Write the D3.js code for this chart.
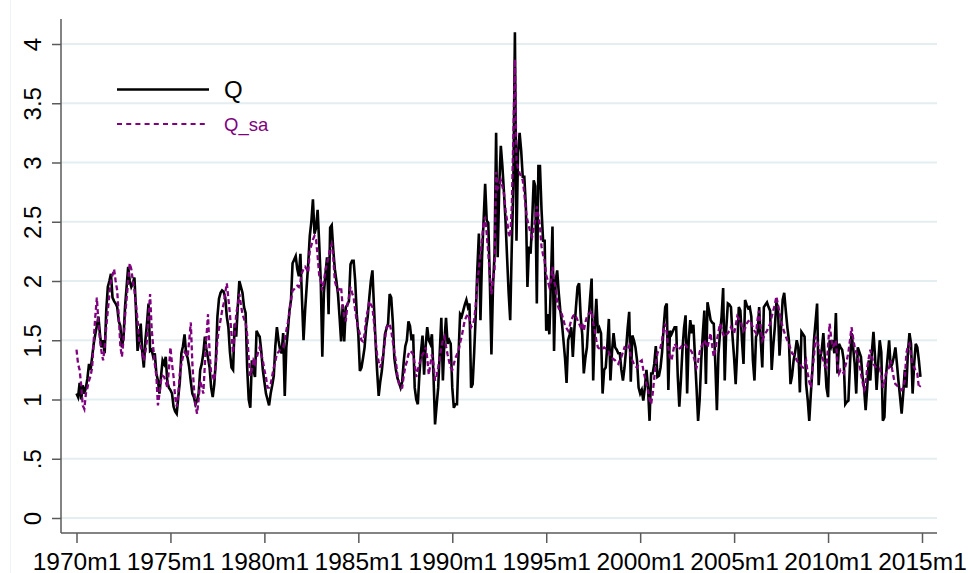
<!DOCTYPE html>
<html>
<head>
<meta charset="utf-8">
<script src="https://cdn.jsdelivr.net/npm/d3@7"></script>
<style>
  body { margin: 0; background: #fff; }
  svg { display: block; }
  text { font-family: "Liberation Sans", Arial, Helvetica, sans-serif; }
</style>
</head>
<body>
<div id="chart"></div>
<script>
// tick labels
var xTickLabels = ["1970m1","1975m1","1980m1","1985m1","1990m1","1995m1","2000m1","2005m1","2010m1","2015m1"];
var yTickValues = [0, 0.5, 1, 1.5, 2, 2.5, 3, 3.5, 4];
var yTickLabels = ["0", ".5", "1", "1.5", "2", "2.5", "3", "3.5", "4"];
var seriesNames = ["Q", "Q_sa"];

// monthly values, 1970m1 .. 2014m12 (one row per year)
var q = [
  1.05,1.02,1.14,1.0,1.12,1.05,1.1,1.18,1.3,1.25,1.36,1.47,
  1.55,1.62,1.7,1.55,1.44,1.5,1.39,1.75,1.95,2.0,2.06,1.86,
  1.83,1.81,1.78,1.66,1.62,1.44,1.52,1.78,1.95,2.12,2.0,1.95,
  1.98,2.03,1.75,1.41,1.5,1.64,1.4,1.27,1.5,1.64,1.81,1.41,
  1.42,1.36,1.39,1.22,1.16,1.05,1.2,1.33,1.3,1.36,1.15,1.1,
  1.08,1.05,0.94,0.9,0.88,1.02,1.15,1.39,1.45,1.55,1.39,1.35,
  1.27,1.15,1.05,1.02,0.96,0.99,1.05,1.25,1.3,1.39,1.53,1.42,
  1.35,1.27,1.1,1.02,1.13,1.33,1.7,1.85,1.9,1.92,1.91,1.86,
  1.7,1.61,1.4,1.27,1.25,1.64,1.53,1.78,2.0,1.95,1.9,1.78,
  1.73,1.27,1.0,0.93,1.33,1.25,1.19,1.58,1.55,1.53,1.41,1.25,
  1.15,1.05,1.0,0.95,1.05,1.12,1.2,1.45,1.61,1.5,1.42,1.39,
  1.56,1.03,1.44,1.58,1.75,1.84,2.15,2.18,2.21,2.1,2.04,2.23,
  1.85,1.5,1.75,1.95,2.15,2.38,2.5,2.69,2.4,2.45,2.6,2.32,
  2.0,1.36,1.9,2.06,2.2,1.72,2.45,2.47,2.26,2.1,2.0,1.89,
  1.7,1.49,1.8,1.49,1.78,1.8,1.83,2.14,2.17,2.17,2.0,1.72,
  1.55,1.24,1.27,1.35,1.44,1.61,1.7,1.86,2.0,2.09,1.78,1.49,
  1.24,1.03,1.15,1.24,1.38,1.55,1.6,1.64,1.89,1.86,1.66,1.35,
  1.25,1.18,1.14,1.1,1.15,1.32,1.45,1.5,1.66,1.62,1.5,1.55,
  1.1,1.0,0.96,1.21,1.4,1.54,1.21,1.45,1.61,1.5,1.47,1.55,
  1.2,0.79,0.95,1.1,1.4,1.69,1.16,1.5,1.69,1.47,1.5,1.47,
  1.1,0.93,0.96,0.96,1.38,1.72,1.7,1.75,1.8,1.84,1.78,1.81,
  1.1,1.13,1.4,1.72,2.1,2.4,1.67,2.2,2.51,2.82,2.51,2.49,
  2.0,1.38,1.95,2.23,3.25,2.2,2.8,3.14,2.97,2.75,2.51,2.2,
  1.9,1.67,2.29,2.8,4.1,2.34,3.08,3.25,3.1,2.88,2.88,2.63,
  1.95,2.29,2.23,2.5,2.85,2.8,1.81,2.97,2.97,2.6,2.34,2.34,
  1.58,1.72,1.55,2.0,2.46,1.41,2.0,2.09,1.9,1.75,1.65,1.5,
  1.35,1.14,1.5,1.55,1.61,1.36,1.6,1.78,1.95,1.98,1.7,1.55,
  1.22,1.35,1.44,1.67,1.85,2.02,1.16,1.6,1.85,1.56,1.6,1.56,
  1.05,1.25,1.27,1.45,1.68,1.16,1.4,1.56,1.44,1.42,1.39,1.39,
  1.25,1.16,1.27,1.42,1.6,1.74,1.15,1.54,1.5,1.44,1.33,1.1,
  1.05,1.08,0.99,1.1,1.25,1.1,0.82,1.22,1.22,1.3,1.45,1.19,
  1.2,1.27,1.4,1.61,1.78,1.81,1.08,1.58,1.55,1.58,1.61,1.61,
  1.2,0.94,1.16,1.42,1.6,1.71,1.05,1.5,1.67,1.56,1.63,1.36,
  1.1,0.82,1.0,1.33,1.55,1.75,1.13,1.82,1.75,1.67,1.65,1.64,
  1.3,0.91,1.39,1.56,1.7,1.94,1.16,1.6,1.81,1.8,1.78,1.53,
  1.35,1.13,1.42,1.78,1.75,1.5,1.3,1.84,1.8,1.77,1.78,1.7,
  1.33,1.16,1.53,1.56,1.78,1.5,1.27,1.78,1.8,1.82,1.78,1.75,
  1.25,1.45,1.61,1.82,1.78,1.37,1.6,1.84,1.9,1.75,1.61,1.5,
  1.13,1.2,1.33,1.4,1.5,1.44,1.06,1.57,1.55,1.53,1.13,1.0,
  0.82,1.05,1.25,1.5,1.65,1.81,1.12,1.35,1.42,1.56,1.33,1.1,
  1.02,1.5,1.45,1.5,1.39,1.73,1.22,1.47,1.44,1.42,1.33,0.96,
  0.98,0.99,1.3,1.56,1.44,1.3,1.05,1.44,1.4,1.36,1.2,1.1,
  0.91,1.1,1.33,1.16,1.4,1.57,1.36,1.08,1.3,1.5,1.4,0.82,
  0.85,1.2,1.35,1.5,1.27,1.3,1.36,1.44,1.3,1.15,1.02,0.88,
  1.05,1.25,1.1,1.4,1.56,1.47,1.05,1.3,1.47,1.44,1.33,1.19
];

var qSa = [
  1.42,1.3,1.25,1.12,0.95,0.92,1.05,1.1,1.16,1.2,1.27,1.5,
  1.7,1.86,1.65,1.5,1.4,1.33,1.45,1.61,1.75,1.89,2.0,2.05,
  2.1,2.0,1.92,1.7,1.45,1.36,1.5,1.7,1.85,2.0,2.15,2.1,
  2.0,1.92,1.8,1.67,1.5,1.45,1.39,1.33,1.4,1.5,1.7,1.89,
  1.6,1.44,1.3,1.2,0.95,1.05,1.16,1.2,1.19,1.15,1.1,1.25,
  1.44,1.3,1.19,1.02,0.94,1.05,1.22,1.3,1.36,1.4,1.38,1.36,
  1.5,1.65,1.3,1.1,0.95,0.88,1.0,1.16,1.1,1.05,1.3,1.53,
  1.72,1.4,1.22,1.2,1.16,1.3,1.5,1.6,1.67,1.75,1.81,1.9,
  1.98,1.85,1.72,1.55,1.39,1.55,1.72,1.8,1.89,1.8,1.72,1.68,
  1.65,1.55,1.35,1.2,1.25,1.33,1.3,1.35,1.4,1.44,1.38,1.33,
  1.25,1.19,1.1,1.1,1.13,1.2,1.27,1.32,1.39,1.4,1.42,1.43,
  1.44,1.5,1.58,1.65,1.73,1.84,1.92,1.93,1.95,1.96,1.95,2.0,
  2.07,2.1,2.12,2.1,2.07,2.26,2.3,2.35,2.38,2.35,2.21,2.05,
  2.0,1.92,2.0,2.09,2.15,2.2,2.28,2.31,2.2,2.0,1.95,1.92,
  1.93,1.95,1.78,1.7,1.66,1.8,1.86,1.95,1.9,1.86,1.75,1.66,
  1.6,1.55,1.5,1.49,1.55,1.69,1.75,1.83,1.8,1.78,1.65,1.5,
  1.38,1.32,1.27,1.33,1.38,1.5,1.61,1.62,1.64,1.58,1.49,1.4,
  1.32,1.2,1.13,1.1,1.1,1.2,1.28,1.32,1.38,1.41,1.4,1.38,
  1.3,1.19,1.25,1.3,1.35,1.38,1.4,1.44,1.35,1.21,1.3,1.38,
  1.3,1.16,1.2,1.27,1.35,1.44,1.5,1.53,1.45,1.38,1.32,1.27,
  1.25,1.3,1.35,1.38,1.41,1.48,1.53,1.6,1.67,1.7,1.72,1.68,
  1.61,1.63,1.67,1.8,2.0,2.1,2.23,2.35,2.5,2.54,2.4,2.23,
  2.05,1.89,2.0,2.09,2.92,2.78,2.8,2.85,2.8,2.74,2.6,2.51,
  2.4,2.37,2.63,3.22,3.87,3.02,2.95,2.91,2.88,2.85,2.74,2.6,
  2.51,2.46,2.4,2.37,2.45,2.51,2.63,2.55,2.46,2.29,2.22,2.17,
  2.05,2.0,1.95,2.0,2.12,2.0,1.95,1.81,1.77,1.74,1.72,1.67,
  1.62,1.6,1.58,1.62,1.67,1.7,1.72,1.7,1.67,1.64,1.61,1.64,
  1.58,1.65,1.7,1.72,1.73,1.75,1.65,1.58,1.5,1.44,1.43,1.42,
  1.43,1.44,1.43,1.42,1.4,1.36,1.35,1.34,1.33,1.31,1.3,1.33,
  1.36,1.4,1.44,1.43,1.42,1.45,1.36,1.33,1.3,1.28,1.27,1.3,
  1.32,1.33,1.25,1.19,1.13,1.08,1.0,0.96,1.05,1.18,1.3,1.39,
  1.42,1.44,1.5,1.6,1.64,1.56,1.44,1.36,1.33,1.4,1.47,1.45,
  1.42,1.43,1.44,1.46,1.47,1.46,1.44,1.43,1.42,1.4,1.37,1.32,
  1.27,1.32,1.4,1.44,1.47,1.5,1.47,1.44,1.5,1.56,1.45,1.36,
  1.42,1.5,1.57,1.64,1.6,1.55,1.53,1.55,1.56,1.58,1.61,1.58,
  1.56,1.62,1.7,1.68,1.67,1.62,1.58,1.6,1.64,1.66,1.67,1.64,
  1.61,1.58,1.56,1.68,1.75,1.6,1.5,1.53,1.56,1.58,1.61,1.64,
  1.7,1.75,1.8,1.87,1.8,1.73,1.67,1.61,1.57,1.53,1.5,1.47,
  1.43,1.39,1.38,1.36,1.33,1.31,1.3,1.28,1.27,1.3,1.33,1.22,
  1.15,1.1,1.25,1.36,1.53,1.5,1.44,1.4,1.36,1.33,1.28,1.27,
  1.45,1.64,1.52,1.44,1.46,1.5,1.3,1.22,1.25,1.24,1.22,1.28,
  1.33,1.4,1.5,1.61,1.52,1.44,1.4,1.36,1.3,1.22,1.15,1.08,
  1.12,1.27,1.35,1.42,1.36,1.3,1.28,1.27,1.27,1.27,1.2,1.1,
  1.15,1.22,1.25,1.27,1.33,1.25,1.18,1.13,1.12,1.1,1.09,1.08,
  1.1,1.16,1.39,1.45,1.47,1.36,1.3,1.27,1.24,1.22,1.1,1.12
];

var width = 968, height = 573;
var purple = "#800080";
var axisColor = "#5a5a5a";

var svg = d3.select("#chart").append("svg")
    .attr("width", width)
    .attr("height", height);

svg.append("rect").attr("width", width).attr("height", height).style("fill", "#fff");

// faint graph-region edge on the left
svg.append("line")
    .attr("x1", 10.5).attr("x2", 10.5).attr("y1", 0).attr("y2", height)
    .style("stroke", "#eef3f5").style("stroke-width", 1);

var xScale = d3.scaleLinear()
    .domain([0, 540])
    .range([76.5, 922]);

var yScale = d3.scaleLinear()
    .domain([0, 4])
    .range([518, 44]);

var plotLeft = 61, plotRight = 937, plotBottom = 533, plotTop = 19;

// grid lines
svg.selectAll(".grid")
    .data(yTickValues)
  .enter()
    .append("line")
    .attr("class", "grid")
    .attr("x1", plotLeft)
    .attr("x2", plotRight)
    .attr("y1", function(d) { return yScale(d); })
    .attr("y2", function(d) { return yScale(d); })
    .style("stroke", "#e4eef1")
    .style("stroke-width", 1.8);

// y axis
var yAxis = d3.axisLeft(yScale)
    .tickValues(yTickValues)
    .tickFormat(function(d, i) { return yTickLabels[i]; })
    .tickSize(9)
    .tickSizeOuter(0);

var gy = svg.append("g")
    .attr("class", "y axis")
    .attr("transform", "translate(" + plotLeft + ",0)")
    .call(yAxis);

gy.select(".domain").remove();
gy.append("line")
    .attr("x1", 0).attr("x2", 0).attr("y1", plotTop).attr("y2", plotBottom)
    .style("stroke", axisColor).style("stroke-width", 1.5);
gy.selectAll(".tick line").style("stroke", axisColor).style("stroke-width", 1.5);
gy.selectAll(".tick text")
    .attr("transform", "rotate(-90)")
    .attr("x", 0)
    .attr("y", -20.5)
    .attr("dy", 0)
    .attr("text-anchor", "middle")
    .style("font-size", "24px")
    .style("fill", "#000");

// x axis
var xAxis = d3.axisBottom(xScale)
    .tickValues(d3.range(0, 541, 60))
    .tickFormat(function(d, i) { return xTickLabels[i]; })
    .tickSize(10)
    .tickSizeOuter(0);

var gx = svg.append("g")
    .attr("class", "x axis")
    .attr("transform", "translate(0," + plotBottom + ")")
    .call(xAxis);

gx.select(".domain").remove();
gx.append("line")
    .attr("x1", plotLeft).attr("x2", plotRight).attr("y1", 0).attr("y2", 0)
    .style("stroke", axisColor).style("stroke-width", 1.5);
gx.selectAll(".tick line").style("stroke", axisColor).style("stroke-width", 1.5);
gx.selectAll(".tick text")
    .attr("y", 36.5)
    .attr("dy", 0)
    .style("font-size", "24.5px")
    .style("fill", "#000");

// series
var line = d3.line()
    .x(function(d, i) { return xScale(i); })
    .y(function(d) { return yScale(d); });

svg.append("path")
    .datum(q)
    .attr("d", line)
    .style("fill", "none")
    .style("stroke", "#000")
    .style("stroke-width", 2.6);

svg.append("path")
    .datum(qSa)
    .attr("d", line)
    .style("fill", "none")
    .style("stroke", purple)
    .style("stroke-width", 2.3)
    .style("stroke-dasharray", "5,3");

// legend
var legend = svg.append("g").attr("class", "legend");
legend.append("line")
    .attr("x1", 117).attr("x2", 209).attr("y1", 89.5).attr("y2", 89.5)
    .style("stroke", "#000").style("stroke-width", 2.4);
legend.append("text")
    .attr("x", 224).attr("y", 97.5)
    .text(seriesNames[0])
    .style("font-size", "24px").style("fill", "#000");
legend.append("line")
    .attr("x1", 117).attr("x2", 209).attr("y1", 124).attr("y2", 124)
    .style("stroke", purple).style("stroke-width", 1.8)
    .style("stroke-dasharray", "5,4.2");
legend.append("text")
    .attr("x", 224).attr("y", 131)
    .text(seriesNames[1])
    .style("font-size", "18.5px").style("fill", purple);
</script>
</body>
</html>
